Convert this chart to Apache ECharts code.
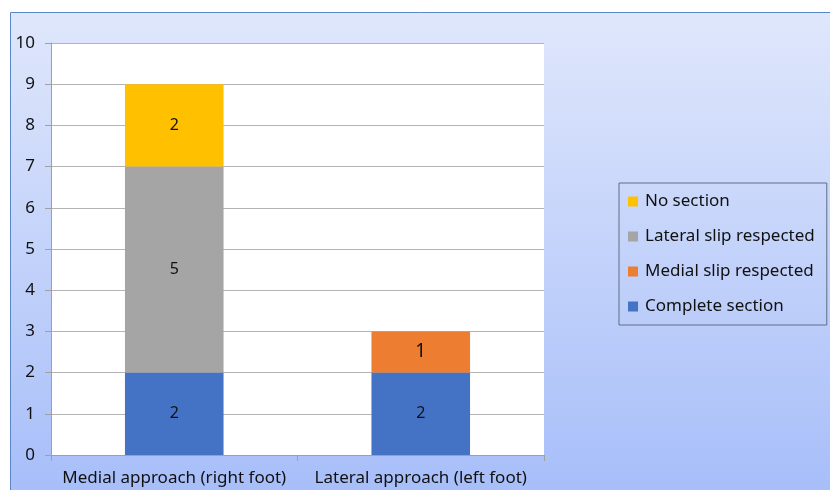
<!DOCTYPE html>
<html>
<head>
<meta charset="utf-8">
<script src="https://cdn.jsdelivr.net/npm/echarts@6/dist/echarts.min.js"></script>
<style>
  html, body { margin: 0; padding: 0; background: #fff; }
  #chart { width: 830px; height: 490px; }
</style>
</head>
<body>
<div id="chart"></div>
<script>
const categories = ['Medial approach (right foot)', 'Lateral approach (left foot)'];
const completeSection = [2, 2];
const medialSlip = [null, 1];
const lateralSlip = [5, null];
const noSection = [2, null];
const yTicks = { min: 0, max: 10, interval: 1 };

const font = 'Noto Sans';
const chart = echarts.init(document.getElementById('chart'));

function seg(name, data, color, size) {
  return {
    name: name,
    type: 'bar',
    stack: 'total',
    data: data,
    barWidth: '40%',
    itemStyle: { color: color },
    label: {
      show: true,
      position: 'inside',
      color: '#111',
      fontFamily: font,
      fontSize: size || 16
    }
  };
}

chart.setOption({
  animation: false,
  backgroundColor: '#fff',
  textStyle: { fontFamily: font },
  graphic: [{
    type: 'rect',
    z: -10,
    silent: true,
    shape: { x: 10.5, y: 12.5, width: 830, height: 490 },
    style: {
      stroke: '#5a86c8',
      lineWidth: 1,
      fill: new echarts.graphic.LinearGradient(0, 0, 0, 1, [
        { offset: 0, color: '#dfe7fb' },
        { offset: 1, color: '#a6bdf9' }
      ])
    }
  }],
  grid: {
    left: 51, top: 43, width: 493, height: 412,
    show: true, backgroundColor: '#fff', borderWidth: 0
  },
  legend: {
    orient: 'vertical',
    left: 619, top: 183,
    width: 207,
    padding: [10, 12, 10, 9],
    itemGap: 18,
    itemWidth: 10, itemHeight: 10,
    borderColor: '#5f6f86',
    borderWidth: 1,
    icon: 'rect',
    data: ['No section', 'Lateral slip respected', 'Medial slip respected', 'Complete section'],
    textStyle: { fontFamily: font, fontSize: 17, color: '#111', padding: [0, 0, 0, 2] }
  },
  xAxis: {
    type: 'category',
    data: categories,
    axisLine: { lineStyle: { color: '#a0a0a0' } },
    axisTick: { show: true, length: 6, lineStyle: { color: '#a0a0a0' } },
    axisLabel: { color: '#111', fontSize: 17, fontFamily: font, margin: 15, interval: 0 }
  },
  yAxis: {
    type: 'value',
    min: yTicks.min, max: yTicks.max, interval: yTicks.interval,
    axisLine: { show: true, lineStyle: { color: '#a0a0a0' } },
    axisTick: { show: true, length: 6, lineStyle: { color: '#a0a0a0' } },
    splitLine: { lineStyle: { color: '#b4b4b4' } },
    axisLabel: { color: '#111', fontSize: 17, fontFamily: font, margin: 16 }
  },
  series: [
    seg('Complete section', completeSection, '#4472c4'),
    seg('Medial slip respected', medialSlip, '#ed7d31', 19),
    seg('Lateral slip respected', lateralSlip, '#a5a5a5'),
    seg('No section', noSection, '#ffc000')
  ]
});
</script>
</body>
</html>
